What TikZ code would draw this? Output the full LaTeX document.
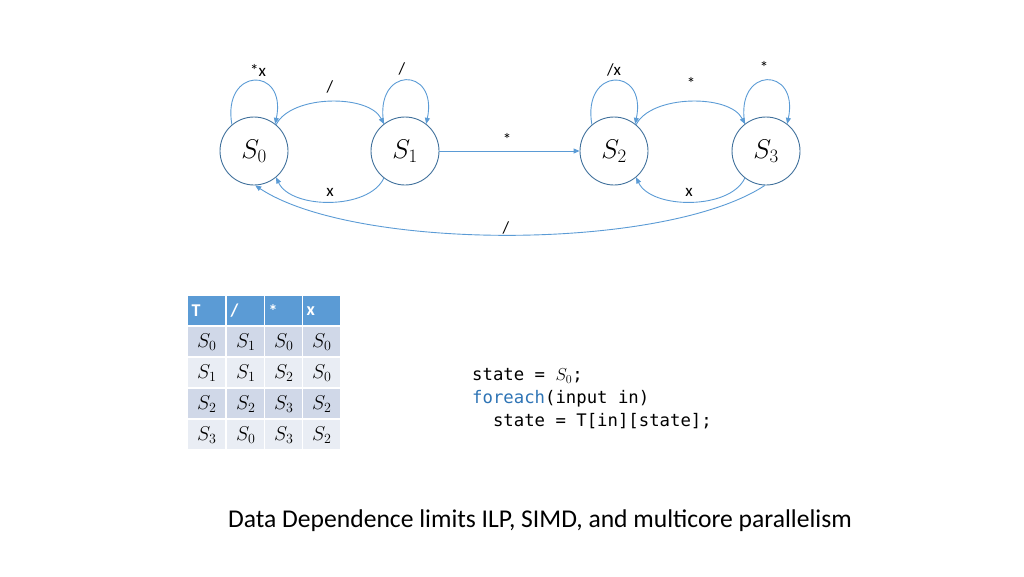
\RequirePackage{fix-cm}
\documentclass[tikz,border=0pt]{standalone}
\usepackage{fontspec}
\setmainfont{Carlito}
\setmonofont{DejaVu Sans Mono}
\usetikzlibrary{arrows.meta}
\definecolor{arrowblue}{HTML}{5B9BD5}
\definecolor{circblue}{HTML}{41719C}
\definecolor{hdrblue}{HTML}{5B9BD5}
\definecolor{rowA}{HTML}{D0D8E8}
\definecolor{rowB}{HTML}{E9EDF4}
\definecolor{kwblue}{HTML}{2E74B5}
\tikzset{
  statenode/.style={circle, draw=circblue, line width=0.9pt, minimum size=68pt, inner sep=0pt, font=\fontsize{27}{31}\selectfont},
  edge/.style={draw=arrowblue, line width=0.9pt, -{Triangle[length=6pt,width=5pt]}},
  elabel/.style={font=\fontsize{17}{20}\selectfont, inner sep=0pt},
  cell/.style={anchor=north west, minimum width=37pt, minimum height=29pt, inner sep=0pt, font=\fontsize{20}{24}\selectfont},
  hdr/.style={cell, fill=hdrblue, text=white, font=\fontsize{18}{21}\selectfont\bfseries, align=left, text width=30pt},
  codeline/.style={anchor=west, inner sep=0pt, font=\ttfamily\fontsize{17.3}{21}\selectfont},
}
\begin{document}
\begin{tikzpicture}[x=1pt,y=-1pt]
\useasboundingbox (0,0) rectangle (1024,576);
% states
\node[statenode] (s0) at (254,151) {$S_0$};
\node[statenode] (s1) at (405,151) {$S_1$};
\node[statenode] (s2) at (614,151) {$S_2$};
\node[statenode] (s3) at (766,151) {$S_3$};
% self loops
\draw[edge] (s0.130) .. controls +(-10,-58) and +(12,-58) .. (s0.52);
\draw[edge] (s1.128) .. controls +(-10,-58) and +(12,-58) .. (s1.52);
\draw[edge] (s2.130) .. controls +(-10,-58) and +(12,-58) .. (s2.52);
\draw[edge] (s3.128) .. controls +(-10,-58) and +(12,-58) .. (s3.52);
% arcs
\draw[edge] (s0.50) .. controls +(15,-30) and +(-15,-30) .. (s1.128);
\draw[edge] (s1.232) .. controls +(-15,32) and +(15,32) .. (s0.310);
\draw[edge] (s2.50) .. controls +(15,-30) and +(-15,-30) .. (s3.128);
\draw[edge] (s3.232) .. controls +(-15,32) and +(15,32) .. (s2.310);
\draw[edge] (s1) -- (s2);
\draw[edge] (s3.268) .. controls +(-100,66) and +(100,66) .. (s0.272);
% edge labels
\node[elabel] (l0) at (258,70) {*x};
\node[elabel] (l1) at (402,69) {/};
\node[elabel] (l2) at (614,70) {/x};
\node[elabel] (l3) at (764,67) {*};
\node[elabel] (l01) at (330,87) {/};
\node[elabel] (l10) at (330,192) {x};
\node[elabel] (l12) at (507,139) {*};
\node[elabel] (l23) at (691,83) {*};
\node[elabel] (l32) at (689,192) {x};
\node[elabel] (l30) at (506,228) {/};
% table
\node[hdr] (h0) at (188,296) {T};
\node[hdr] (h1) at (227,296) {/};
\node[hdr] (h2) at (265,296) {*};
\node[hdr] (h3) at (303,296) {x};
\node[cell, fill=rowA] (c00) at (188,327) {$S_0$};
\node[cell, fill=rowA] (c01) at (227,327) {$S_1$};
\node[cell, fill=rowA] (c02) at (265,327) {$S_0$};
\node[cell, fill=rowA] (c03) at (303,327) {$S_0$};
\node[cell, fill=rowB] (c10) at (188,358) {$S_1$};
\node[cell, fill=rowB] (c11) at (227,358) {$S_1$};
\node[cell, fill=rowB] (c12) at (265,358) {$S_2$};
\node[cell, fill=rowB] (c13) at (303,358) {$S_0$};
\node[cell, fill=rowA] (c20) at (188,389) {$S_2$};
\node[cell, fill=rowA] (c21) at (227,389) {$S_2$};
\node[cell, fill=rowA] (c22) at (265,389) {$S_3$};
\node[cell, fill=rowA] (c23) at (303,389) {$S_2$};
\node[cell, fill=rowB] (c30) at (188,420) {$S_3$};
\node[cell, fill=rowB] (c31) at (227,420) {$S_0$};
\node[cell, fill=rowB] (c32) at (265,420) {$S_3$};
\node[cell, fill=rowB] (c33) at (303,420) {$S_2$};
% code
\node[codeline] (code1) at (472,376) {state = $S_0$;};
\node[codeline] (code2) at (472,399) {\textcolor{kwblue}{foreach}(input in)};
\node[codeline] (code3) at (472,421) {\ \ state = T[in][state];};
% caption
\node[inner sep=0pt, font=\fontsize{25.6}{30}\selectfont] (cap) at (540,521) {Data Dependence limits ILP, SIMD, and multicore parallelism};
\end{tikzpicture}
\end{document}
